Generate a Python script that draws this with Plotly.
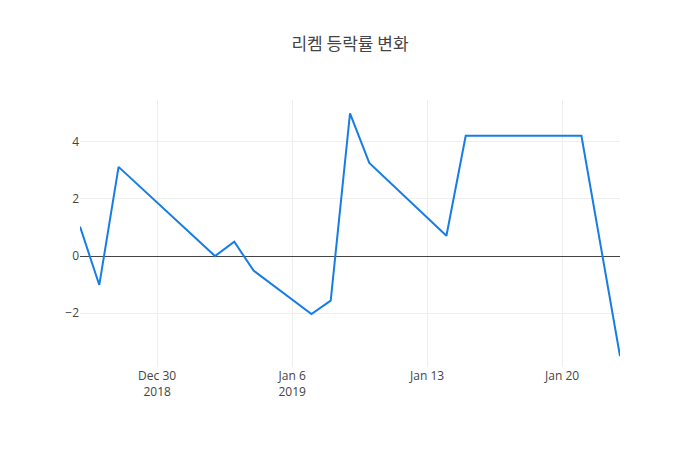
import plotly.graph_objects as go

# 리켐 daily change rate (%)
dates = ['2018-12-26', '2018-12-27', '2018-12-28', '2019-01-02', '2019-01-03',
         '2019-01-04', '2019-01-07', '2019-01-08', '2019-01-09', '2019-01-10',
         '2019-01-14', '2019-01-15', '2019-01-21', '2019-01-23']
rates = [1.03, -1.01, 3.12, 0.0, 0.5,
         -0.51, -2.03, -1.56, 4.99, 3.26,
         0.71, 4.21, 4.21, -3.5]

fig = go.Figure(go.Scatter(
    x=dates, y=rates, mode='lines',
    line=dict(color='rgb(22,125,230)', width=2),
))

# page has an 8px body margin, so margins are shifted to compensate
fig.update_layout(
    title=dict(text='리켐 등락률 변화', x=342 / 700, xanchor='center',
               y=1 - 36 / 450, yanchor='middle',
               font=dict(family='Noto Sans CJK KR', size=17, color='#444')),
    width=700, height=450,
    margin=dict(l=72, r=88, t=92, b=91),
    paper_bgcolor='white', plot_bgcolor='white',
    font=dict(family='Open Sans', size=12, color='#444'),
    xaxis=dict(range=['2018-12-26', '2019-01-23'], showgrid=True,
               gridcolor='#eee', zeroline=False, showline=False),
    yaxis=dict(range=[-3.88, 5.46], dtick=2, showgrid=True, gridcolor='#eee',
               zeroline=True, zerolinecolor='#444', zerolinewidth=1,
               showline=False),
    showlegend=False,
)

fig.write_html('out.html')
